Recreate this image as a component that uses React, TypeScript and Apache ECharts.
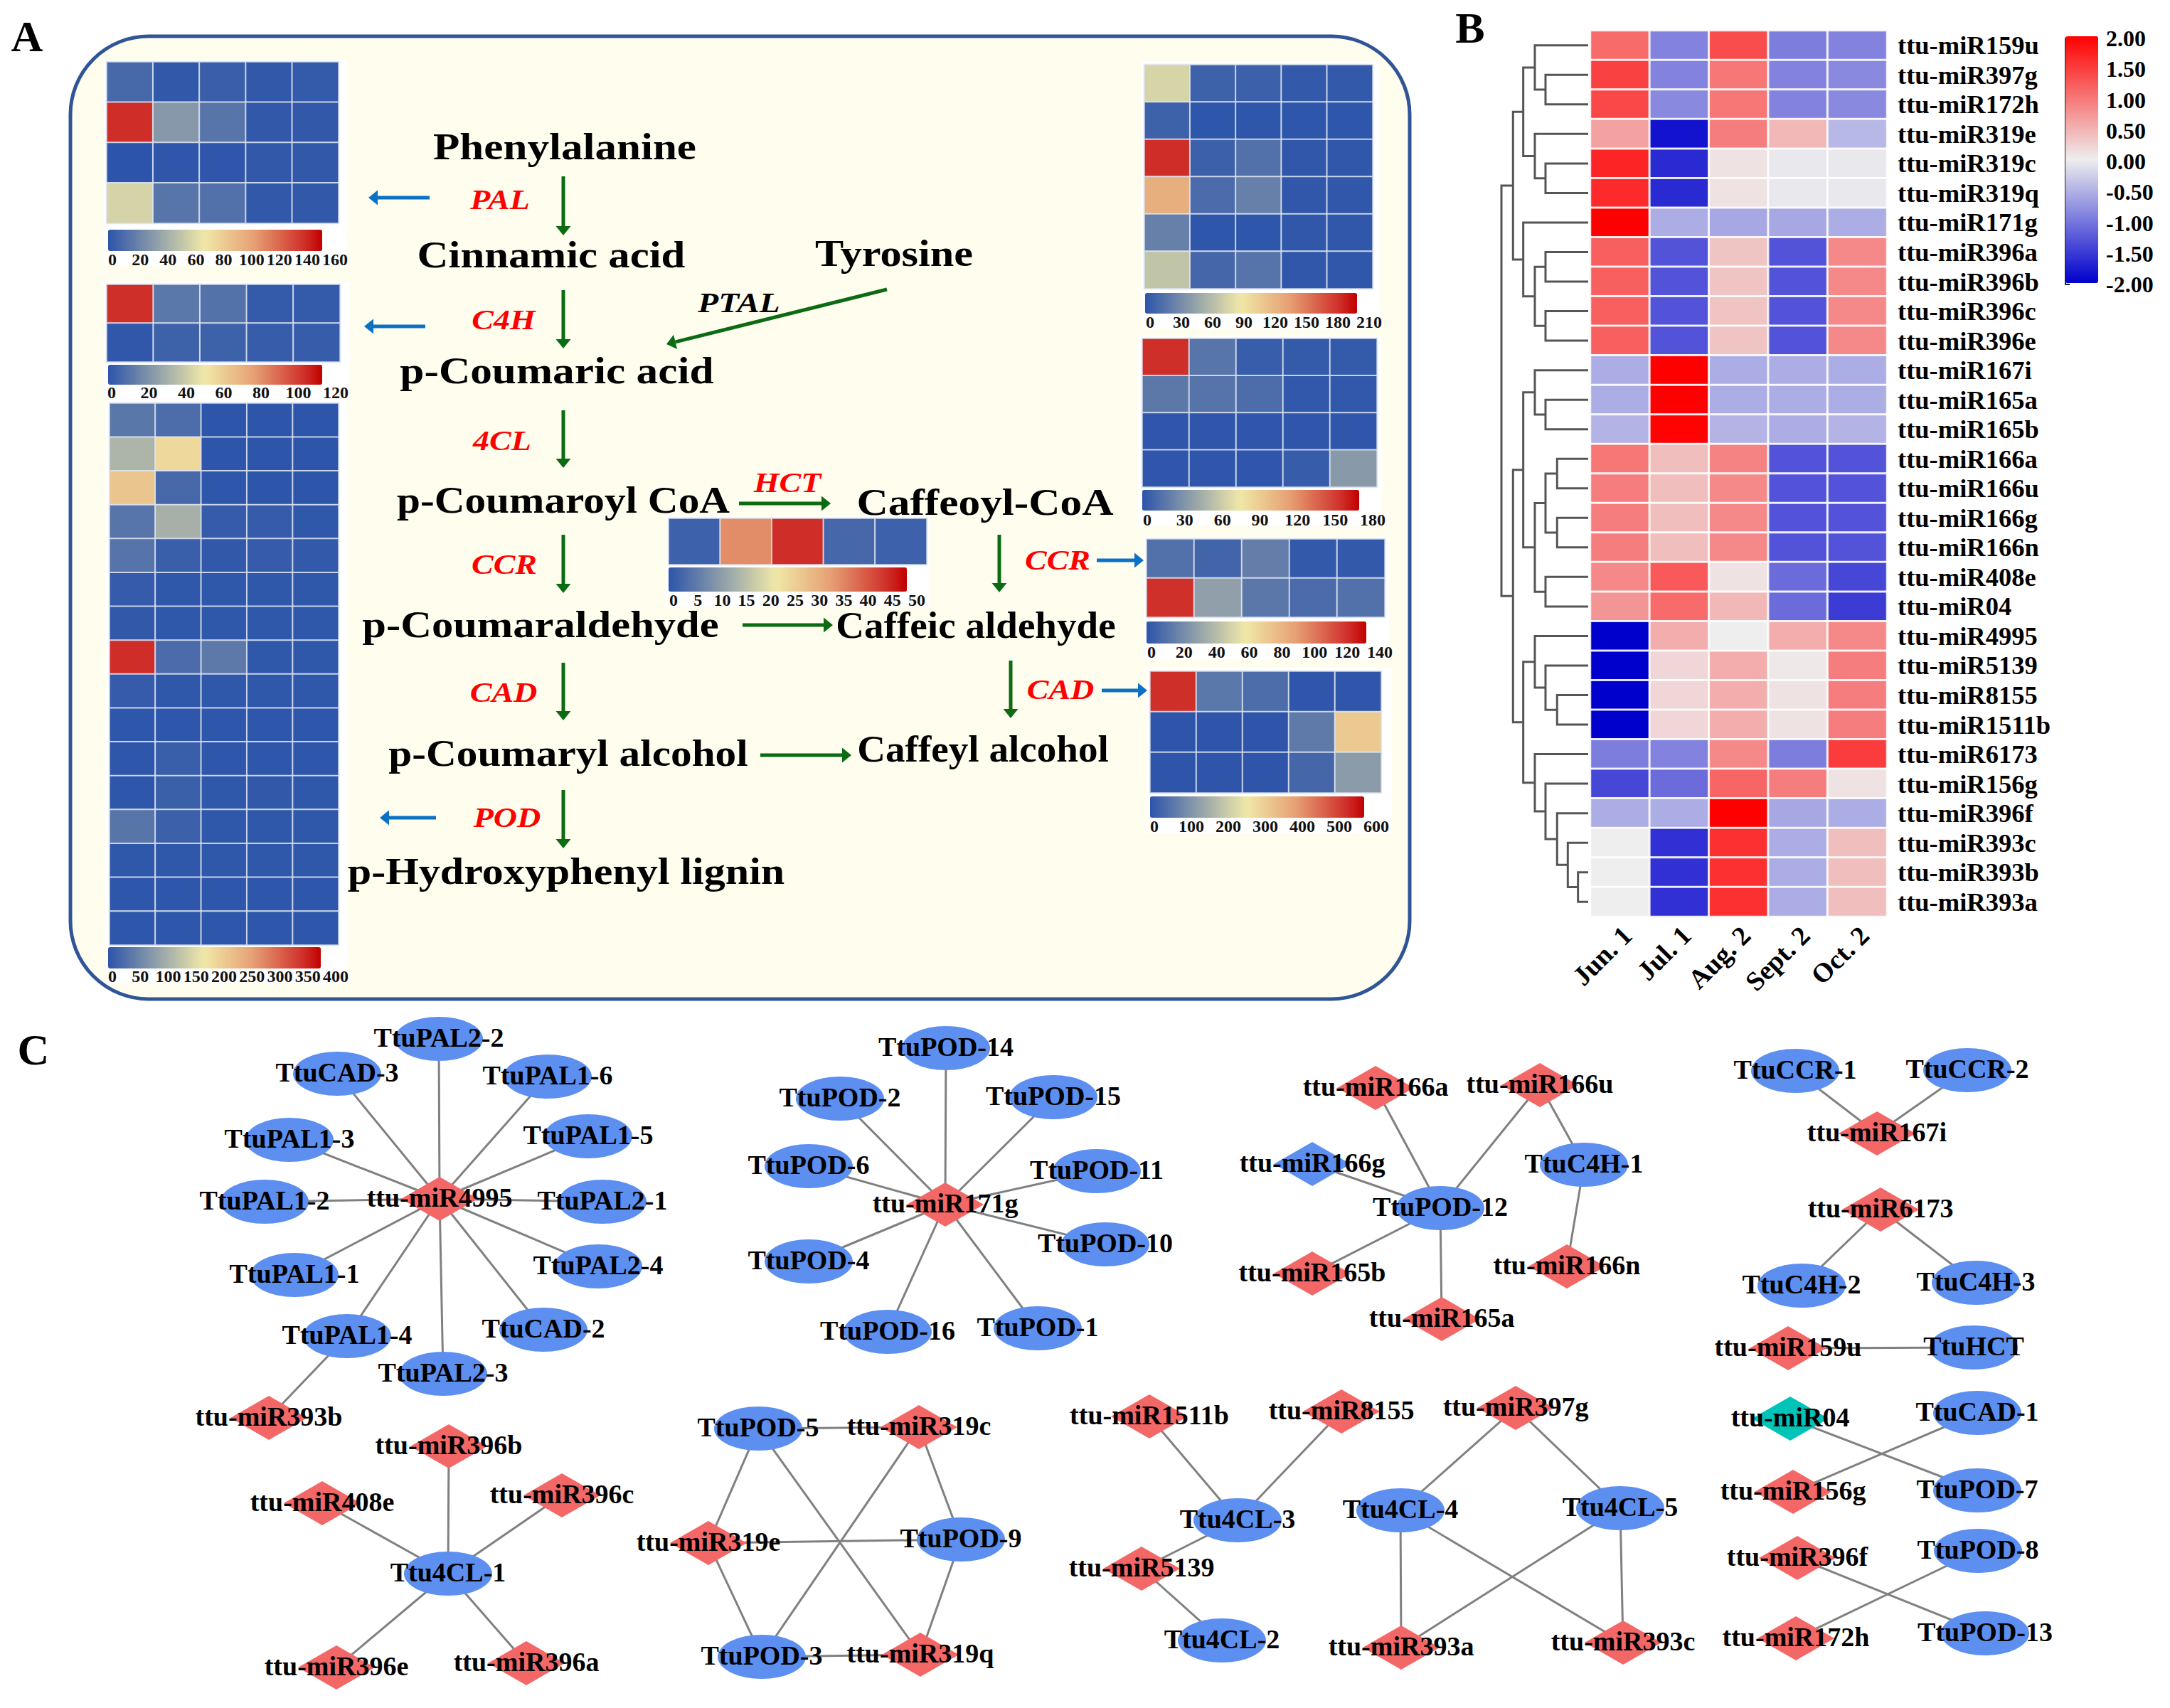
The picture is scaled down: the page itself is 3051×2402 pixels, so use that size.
import React, { useEffect, useRef } from "react";
import * as echarts from "echarts";

const FONT = "Liberation Serif";

const months = ["Jun. 1", "Jul. 1", "Aug. 2", "Sept. 2", "Oct. 2"];

// ---- Panel A: expression heat maps ----
const palValues = [
  [10, 2, 5, 2, 3],
  [147, 33, 16, 2, 2],
  [0, 1, 1, 2, 2],
  [62, 16, 14, 2, 2],
];
const c4hValues = [
  [110, 13, 11, 2, 2],
  [1, 5, 5, 3, 3],
];
const podValues = [
  [42, 30, 1, 1, 1],
  [118, 200, 1, 1, 1],
  [225, 25, 2, 1, 1],
  [40, 112, 8, 8, 3],
  [38, 12, 5, 8, 6],
  [8, 3, 3, 3, 3],
  [5, 3, 3, 3, 3],
  [368, 28, 45, 3, 3],
  [8, 3, 3, 3, 3],
  [2, 2, 2, 2, 2],
  [2, 12, 2, 2, 2],
  [2, 14, 3, 5, 3],
  [40, 15, 3, 3, 3],
  [3, 3, 3, 3, 3],
  [2, 2, 2, 2, 2],
  [2, 2, 2, 2, 2],
];
const rightTopValues = [
  [82, 9, 8, 3, 3],
  [9, 1, 1, 1, 1],
  [193, 8, 18, 2, 2],
  [133, 15, 28, 2, 2],
  [28, 1, 1, 2, 2],
  [72, 12, 20, 2, 2],
];
const rightSecondValues = [
  [165, 18, 5, 3, 3],
  [20, 17, 13, 2, 2],
  [1, 1, 1, 1, 1],
  [1, 1, 1, 4, 38],
];
const hctValues = [[2, 36, 46, 3, 2]];
const ccrValues = [
  [12, 7, 18, 2, 2],
  [128, 32, 15, 10, 12],
];
const cadValues = [
  [550, 65, 45, 4, 4],
  [2, 2, 2, 70, 330],
  [2, 2, 2, 35, 130],
];

// ---- Panel B ----
const mirNames = [
  "ttu-miR159u", "ttu-miR397g", "ttu-miR172h", "ttu-miR319e", "ttu-miR319c", "ttu-miR319q",
  "ttu-miR171g", "ttu-miR396a", "ttu-miR396b", "ttu-miR396c", "ttu-miR396e", "ttu-miR167i",
  "ttu-miR165a", "ttu-miR165b", "ttu-miR166a", "ttu-miR166u", "ttu-miR166g", "ttu-miR166n",
  "ttu-miR408e", "ttu-miR04", "ttu-miR4995", "ttu-miR5139", "ttu-miR8155", "ttu-miR1511b",
  "ttu-miR6173", "ttu-miR156g", "ttu-miR396f", "ttu-miR393c", "ttu-miR393b", "ttu-miR393a",
];
const mirValues = [
  [1.1, -0.9, 1.35, -0.95, -0.9],
  [1.45, -0.9, 1.0, -0.9, -0.85],
  [1.4, -0.85, 1.0, -0.9, -0.85],
  [0.65, -1.85, 0.95, 0.45, -0.45],
  [1.7, -1.65, 0.1, -0.05, -0.05],
  [1.65, -1.65, 0.1, -0.05, -0.05],
  [2, -0.55, -0.6, -0.6, -0.55],
  [1.2, -1.3, 0.35, -1.3, 0.85],
  [1.2, -1.3, 0.35, -1.3, 0.85],
  [1.2, -1.3, 0.35, -1.3, 0.85],
  [1.2, -1.3, 0.35, -1.3, 0.85],
  [-0.55, 2, -0.55, -0.55, -0.55],
  [-0.55, 2, -0.55, -0.55, -0.55],
  [-0.5, 1.98, -0.5, -0.55, -0.5],
  [1.0, 0.4, 0.9, -1.3, -1.3],
  [0.95, 0.4, 0.85, -1.3, -1.3],
  [0.95, 0.4, 0.85, -1.3, -1.3],
  [0.95, 0.4, 0.85, -1.3, -1.3],
  [0.85, 1.25, 0.1, -1.1, -1.4],
  [0.75, 1.1, 0.45, -1.1, -1.5],
  [-2, 0.55, 0, 0.55, 0.85],
  [-2, 0.2, 0.55, 0.05, 0.95],
  [-2, 0.2, 0.55, 0.1, 0.95],
  [-2, 0.2, 0.55, 0.1, 0.95],
  [-0.95, -0.9, 0.85, -0.95, 1.5],
  [-1.4, -1.1, 1.15, 0.95, 0.1],
  [-0.55, -0.55, 2, -0.6, -0.55],
  [0, -1.6, 1.6, -0.55, 0.4],
  [0, -1.6, 1.6, -0.55, 0.4],
  [0, -1.6, 1.6, -0.55, 0.4],
];
// Dendrogram: [height, childA, childB]; a plain number is a row of the heat map.
const dendrogram: any = [187,
  [162,
    [140,
      [115, 0, [92, 1, 2]],
      [115, 3, [92, 4, 5]],
    ],
    [140, 6, [115, [92, 7, 8], [92, 9, 10]]],
  ],
  [162,
    [140,
      [115, 11, [92, 12, 13]],
      [115, [92, [67, 14, 15], [67, 16, 17]], [92, 18, 19]],
    ],
    [140,
      [115, 20, [92, 21, [67, 22, 23]]],
      [115, 24, [92, 25, [67, 26, [44, 27, [22, 28, 29]]]]],
    ],
  ],
];

// ---- Panel C ----
const networkNodes: [string, number, number][] = [
  ["ttu-miR4995", 618, 1686], ["TtuPAL2-2", 617, 1461], ["TtuCAD-3", 474, 1510], ["TtuPAL1-6", 770, 1514],
  ["TtuPAL1-5", 827, 1598], ["TtuPAL1-3", 407, 1603], ["TtuPAL1-2", 372, 1690], ["TtuPAL2-1", 847, 1690],
  ["TtuPAL2-4", 841, 1781], ["TtuPAL1-1", 414, 1793], ["TtuCAD-2", 764, 1870], ["TtuPAL1-4", 488, 1879],
  ["TtuPAL2-3", 623, 1932], ["ttu-miR393b", 378, 1994], ["ttu-miR396b", 631, 2034], ["ttu-miR408e", 453, 2114],
  ["ttu-miR396c", 790, 2103], ["Ttu4CL-1", 630, 2213], ["ttu-miR396e", 473, 2345], ["ttu-miR396a", 740, 2339],
  ["ttu-miR171g", 1329, 1694], ["TtuPOD-14", 1330, 1474], ["TtuPOD-2", 1181, 1545], ["TtuPOD-15", 1481, 1543],
  ["TtuPOD-6", 1137, 1640], ["TtuPOD-11", 1542, 1647], ["TtuPOD-10", 1554, 1750], ["TtuPOD-4", 1137, 1774],
  ["TtuPOD-16", 1248, 1873], ["TtuPOD-1", 1459, 1868], ["ttu-miR166a", 1934, 1530], ["ttu-miR166g", 1845, 1637],
  ["TtuPOD-12", 2025, 1699], ["ttu-miR165b", 1845, 1791], ["ttu-miR165a", 2027, 1855], ["TtuPOD-5", 1066, 2009],
  ["ttu-miR319c", 1292, 2007], ["TtuPOD-9", 1351, 2165], ["ttu-miR319q", 1294, 2327], ["TtuPOD-3", 1071, 2330],
  ["ttu-miR319e", 996, 2170], ["ttu-miR1511b", 1616, 1992], ["ttu-miR8155", 1886, 1985], ["Ttu4CL-3", 1740, 2138],
  ["ttu-miR5139", 1605, 2206], ["Ttu4CL-2", 1718, 2307], ["Ttu4CL-4", 1969, 2124], ["ttu-miR393a", 1970, 2317],
  ["ttu-miR397g", 2131, 1980], ["Ttu4CL-5", 2278, 2121], ["ttu-miR393c", 2282, 2310], ["ttu-miR166u", 2165, 1526],
  ["TtuC4H-1", 2227, 1638], ["ttu-miR166n", 2203, 1781], ["TtuCCR-1", 2524, 1506], ["TtuCCR-2", 2766, 1505],
  ["ttu-miR167i", 2639, 1594], ["ttu-miR6173", 2644, 1701], ["TtuC4H-2", 2533, 1808], ["TtuC4H-3", 2778, 1804],
  ["ttu-miR159u", 2514, 1896], ["TtuHCT", 2775, 1895], ["ttu-miR04", 2517, 1995], ["TtuCAD-1", 2780, 1987],
  ["ttu-miR156g", 2521, 2098], ["TtuPOD-7", 2780, 2096], ["ttu-miR396f", 2527, 2191], ["TtuPOD-8", 2781, 2181],
  ["ttu-miR172h", 2525, 2304], ["TtuPOD-13", 2791, 2297],
];
const networkEdges: [string, string][] = [
  ["ttu-miR4995", "TtuPAL2-2"], ["ttu-miR4995", "TtuCAD-3"], ["ttu-miR4995", "TtuPAL1-6"], ["ttu-miR4995", "TtuPAL1-5"],
  ["ttu-miR4995", "TtuPAL1-3"], ["ttu-miR4995", "TtuPAL1-2"], ["ttu-miR4995", "TtuPAL2-1"], ["ttu-miR4995", "TtuPAL2-4"],
  ["ttu-miR4995", "TtuPAL1-1"], ["ttu-miR4995", "TtuCAD-2"], ["ttu-miR4995", "TtuPAL1-4"], ["ttu-miR4995", "TtuPAL2-3"],
  ["TtuPAL1-4", "ttu-miR393b"],
  ["Ttu4CL-1", "ttu-miR396b"], ["Ttu4CL-1", "ttu-miR408e"], ["Ttu4CL-1", "ttu-miR396c"], ["Ttu4CL-1", "ttu-miR396e"], ["Ttu4CL-1", "ttu-miR396a"],
  ["ttu-miR171g", "TtuPOD-14"], ["ttu-miR171g", "TtuPOD-2"], ["ttu-miR171g", "TtuPOD-15"], ["ttu-miR171g", "TtuPOD-6"],
  ["ttu-miR171g", "TtuPOD-11"], ["ttu-miR171g", "TtuPOD-10"], ["ttu-miR171g", "TtuPOD-4"], ["ttu-miR171g", "TtuPOD-16"], ["ttu-miR171g", "TtuPOD-1"],
  ["TtuPOD-12", "ttu-miR166a"], ["TtuPOD-12", "ttu-miR166u"], ["TtuPOD-12", "ttu-miR166g"], ["TtuPOD-12", "ttu-miR165b"], ["TtuPOD-12", "ttu-miR165a"],
  ["ttu-miR166u", "TtuC4H-1"], ["TtuC4H-1", "ttu-miR166n"],
  ["TtuPOD-5", "ttu-miR319c"], ["TtuPOD-5", "ttu-miR319e"], ["TtuPOD-5", "ttu-miR319q"],
  ["TtuPOD-3", "ttu-miR319q"], ["TtuPOD-3", "ttu-miR319e"], ["TtuPOD-3", "ttu-miR319c"],
  ["TtuPOD-9", "ttu-miR319c"], ["TtuPOD-9", "ttu-miR319q"], ["TtuPOD-9", "ttu-miR319e"],
  ["Ttu4CL-3", "ttu-miR1511b"], ["Ttu4CL-3", "ttu-miR8155"], ["Ttu4CL-3", "ttu-miR5139"], ["ttu-miR5139", "Ttu4CL-2"],
  ["Ttu4CL-4", "ttu-miR397g"], ["Ttu4CL-4", "ttu-miR393a"], ["Ttu4CL-4", "ttu-miR393c"],
  ["Ttu4CL-5", "ttu-miR397g"], ["Ttu4CL-5", "ttu-miR393a"], ["Ttu4CL-5", "ttu-miR393c"],
  ["ttu-miR167i", "TtuCCR-1"], ["ttu-miR167i", "TtuCCR-2"], ["ttu-miR6173", "TtuC4H-2"], ["ttu-miR6173", "TtuC4H-3"],
  ["ttu-miR159u", "TtuHCT"], ["ttu-miR04", "TtuPOD-7"], ["ttu-miR156g", "TtuCAD-1"], ["ttu-miR396f", "TtuPOD-13"], ["ttu-miR172h", "TtuPOD-8"],
];

// ---- Panel A: pathway labels ----
const compoundLabels: [string, number, number, number][] = [
  ["Phenylalanine", 794, 206, 1.175], ["Cinnamic acid", 775, 359, 1.17], ["Tyrosine", 1257, 356, 1.16],
  ["p-Coumaric acid", 783, 521, 1.18], ["p-Coumaroyl CoA", 792, 703, 1.14], ["p-Coumaraldehyde", 760, 878, 1.165],
  ["p-Coumaryl alcohol", 799, 1059, 1.14], ["p-Hydroxyphenyl lignin", 796, 1225, 1.155],
  ["Caffeoyl-CoA", 1385, 706, 1.18], ["Caffeic aldehyde", 1372, 880, 1.06], ["Caffeyl alcohol", 1382, 1054, 1.06],
];
const enzymeLabels: [string, number, number][] = [
  ["PAL", 703, 281], ["C4H", 708, 450], ["4CL", 706, 620], ["CCR", 709, 794], ["CAD", 708, 974],
  ["POD", 713, 1150], ["HCT", 1107, 679], ["CCR", 1487, 788], ["CAD", 1491, 970],
];
const greenArrows: number[][] = [
  [792, 248, 792, 331], [792, 408, 792, 490], [792, 577, 792, 658], [792, 752, 792, 834], [792, 932, 792, 1013],
  [792, 1111, 792, 1193], [1039, 708, 1168, 708], [1044, 879, 1171, 879], [1069, 1062, 1197, 1062],
  [1405, 752, 1405, 833], [1421, 929, 1421, 1010], [1247, 407, 937, 484],
];
const blueArrows: number[][] = [
  [604, 278, 518, 278], [598, 459, 512, 459], [613, 1150, 534, 1150], [1542, 788, 1608, 788], [1549, 971, 1613, 971],
];

// layout of the small heat maps: [left, top, width, height, barLeft, barTop, barWidth, barHeight, firstTickX, lastTickX, tickY, max, interval]
const panelLayouts: [number[][], number[]][] = [
  [palValues, [150, 87, 326, 227, 152, 323, 301, 30, 158, 471, 364, 160, 20]],
  [c4hValues, [150, 400, 328, 109, 152, 513, 301, 28, 157, 472, 551, 120, 20]],
  [podValues, [154, 567, 322, 762, 152, 1332, 299, 30, 158, 472, 1372, 400, 50]],
  [rightTopValues, [1609, 91, 321, 315, 1610, 412, 298, 29, 1617, 1925, 452, 210, 30]],
  [rightSecondValues, [1606, 476, 330, 209, 1606, 689, 305, 29, 1613, 1930, 730, 180, 30]],
  [hctValues, [940, 729, 363, 65, 940, 798, 335, 34, 947, 1289, 843, 50, 5]],
  [ccrValues, [1612, 758, 335, 110, 1612, 874, 309, 31, 1619, 1940, 916, 140, 20]],
  [cadValues, [1617, 944, 325, 171, 1617, 1120, 301, 30, 1623, 1935, 1161, 600, 100]],
];
const whitePanels: number[][] = [
  [146, 84, 342, 290], [146, 396, 345, 165], [148, 563, 340, 820], [1604, 87, 335, 375],
  [1600, 472, 343, 268], [935, 726, 372, 127], [1608, 755, 345, 172], [1612, 940, 345, 232],
];

function hexToRgb(h: string) {
  return [parseInt(h.slice(1, 3), 16), parseInt(h.slice(3, 5), 16), parseInt(h.slice(5, 7), 16)];
}
function buildRamp(anchors: [number, string][], n: number) {
  const out: string[] = [];
  for (let i = 0; i <= n; i++) {
    const t = i / n;
    let k = 0;
    while (k < anchors.length - 2 && t > anchors[k + 1][0]) k++;
    const [t0, c0] = anchors[k];
    const [t1, c1] = anchors[k + 1];
    const f = (t - t0) / (t1 - t0);
    const a = hexToRgb(c0);
    const b = hexToRgb(c1);
    out.push(`rgb(${a.map((v, j) => Math.round(v + (b[j] - v) * f)).join(",")})`);
  }
  return out;
}
const panelRamp = buildRamp(
  [[0, "#2c54aa"], [0.45, "#f0e8a8"], [0.68, "#e6a073"], [0.92, "#cf2d28"], [1, "#c00000"]],
  50
);

function arrow([x1, y1, x2, y2]: number[], color: string, lw: number, headL: number, headW: number) {
  const len = Math.hypot(x2 - x1, y2 - y1);
  const ux = (x2 - x1) / len;
  const uy = (y2 - y1) / len;
  const bx = x2 - ux * headL;
  const by = y2 - uy * headL;
  return [
    { type: "line", z: 1, shape: { x1, y1, x2: bx, y2: by }, style: { stroke: color, lineWidth: lw } },
    {
      type: "polygon", z: 1,
      shape: { points: [[x2, y2], [bx - uy * headW / 2, by + ux * headW / 2], [bx + uy * headW / 2, by - ux * headW / 2]] },
      style: { fill: color },
    },
  ];
}

function gText(text: string, x: number, y: number, fontSize: number, fill: string, scaleX = 1, italic = false) {
  return {
    type: "text", x, y, scaleX, z: 1,
    style: {
      text, fill, fontSize, fontFamily: FONT, fontWeight: "bold", fontStyle: italic ? "italic" : "normal",
      textAlign: "center", textVerticalAlign: "middle", align: "center", verticalAlign: "middle",
    },
  };
}

function dendroSegments(node: any, out: number[][]): [number, number] {
  if (typeof node === "number") return [0, node + 0.5];
  const [h, a, b] = node;
  const [ha, ya] = dendroSegments(a, out);
  const [hb, yb] = dendroSegments(b, out);
  out.push([ha, ya, h, yb, hb]);
  return [h, (ya + yb) / 2];
}

function buildOption() {
  const grid: any[] = [];
  const xAxis: any[] = [];
  const yAxis: any[] = [];
  const series: any[] = [];
  const visualMap: any[] = [];

  const addAxes = (g: any, x: any, y: any) => {
    grid.push({ outerBoundsMode: "none", containLabel: false, ...g });
    const i = grid.length - 1;
    xAxis.push({ gridIndex: i, ...x });
    yAxis.push({ gridIndex: i, ...y });
    return i;
  };

  // network overlay on the picture's own coordinates
  const net = addAxes(
    { left: 0, top: 0, width: 3051, height: 2402 },
    { type: "value", min: 0, max: 3051, show: false },
    { type: "value", min: 0, max: 2402, inverse: true, show: false }
  );
  const ellipsePath = "path://M0,50a50,50 0 1,0 100,0a50,50 0 1,0 -100,0Z";
  series.push({
    type: "graph", coordinateSystem: "cartesian2d", xAxisIndex: net, yAxisIndex: net, layout: "none", roam: false, silent: true,
    data: networkNodes.map(([name, x, y]) => {
      const isMir = name.startsWith("ttu-");
      const color = name === "ttu-miR04" ? "#00c4b8" : name === "ttu-miR166g" || !isMir ? "#5c8ff0" : "#f46767";
      return {
        name, value: [x, y],
        symbol: isMir ? "diamond" : ellipsePath,
        symbolSize: isMir ? [108, 62] : [124, 62],
        itemStyle: { color },
      };
    }),
    links: networkEdges.map(([source, target]) => ({ source, target })),
    lineStyle: { color: "#808080", width: 3, opacity: 1, curveness: 0 },
    label: { show: true, position: "inside", offset: [0, -2], fontFamily: FONT, fontWeight: "bold", fontSize: 38, color: "#000", formatter: "{b}" },
    z: 2,
  });

  // colour scales for panel A
  panelLayouts.forEach(([vals, l]) => {
    const [left, top, width, height, bl, bt, bw, bh, t0, t1, ty, max, interval] = l;
    const g = addAxes(
      { left, top, width, height },
      { type: "category", data: months, show: false },
      { type: "category", data: vals.map((_, i) => String(i + 1)), inverse: true, show: false }
    );
    const sIdx = series.length;
    const data: number[][] = [];
    vals.forEach((row, r) => row.forEach((v, c) => data.push([c, r, v])));
    series.push({
      type: "heatmap", xAxisIndex: g, yAxisIndex: g, data, silent: true,
      itemStyle: { borderColor: "rgba(222,228,240,0.85)", borderWidth: 2 },
    });
    visualMap.push({
      type: "continuous", show: true, min: 0, max, seriesIndex: sIdx, orient: "horizontal",
      left: bl, top: bt, itemHeight: bw, itemWidth: bh, padding: 0, calculable: false, hoverLink: false,
      inRange: { color: panelRamp },
    });
    addAxes(
      { left: t0, top: ty, width: t1 - t0, height: 1 },
      {
        type: "value", min: 0, max, interval, position: "bottom",
        axisLine: { show: false }, axisTick: { show: false }, splitLine: { show: false },
        axisLabel: { show: true, margin: 0, verticalAlign: "middle", fontFamily: FONT, fontWeight: "bold", fontSize: 24, color: "#111" },
      },
      { type: "value", show: false }
    );
  });

  // Panel B heat map
  const b = addAxes(
    { left: 2236, top: 43, width: 417, height: 1246 },
    { type: "category", data: months, show: false },
    {
      type: "category", data: mirNames, inverse: true, position: "right",
      axisLine: { show: false }, axisTick: { show: false }, splitLine: { show: false },
      axisLabel: { interval: 0, margin: 15, fontFamily: FONT, fontWeight: "bold", fontSize: 36.5, color: "#000" },
    }
  );
  const bIdx = series.length;
  const bData: number[][] = [];
  mirValues.forEach((row, r) => row.forEach((v, c) => bData.push([c, r, v])));
  series.push({
    type: "heatmap", xAxisIndex: b, yAxisIndex: b, data: bData, silent: true,
    itemStyle: { borderColor: "rgba(255,255,255,0.85)", borderWidth: 3 },
  });
  // month labels sit a little to the right of the column centres, on an axis of their own
  addAxes(
    { left: 2246, top: 43, width: 417, height: 1246 },
    {
      type: "category", data: months, position: "bottom",
      axisLine: { show: false }, axisTick: { show: false }, splitLine: { show: false },
      axisLabel: { interval: 0, rotate: 45, margin: 20, fontFamily: FONT, fontWeight: "bold", fontSize: 38, color: "#000" },
    },
    { type: "value", show: false }
  );
  visualMap.push({
    type: "continuous", show: true, min: -2, max: 2, seriesIndex: bIdx, orient: "vertical",
    left: 2904, top: 51, itemWidth: 46, itemHeight: 347, padding: 0, calculable: false, hoverLink: false,
    inRange: { color: ["#0000cd", "#eeeeee", "#ff0000"] },
  });
  addAxes(
    { left: 2904, top: 54, width: 46, height: 346 },
    { type: "value", show: false, min: 0, max: 1 },
    {
      type: "value", min: -2, max: 2, interval: 0.5, position: "right",
      axisLine: { show: true, lineStyle: { color: "#222", width: 2 } },
      axisTick: { show: true, length: 6, lineStyle: { color: "#222", width: 2 } },
      splitLine: { show: false },
      axisLabel: { margin: 11, fontFamily: FONT, fontWeight: "bold", fontSize: 32, color: "#000", formatter: (v: number) => v.toFixed(2) },
    }
  );

  // Dendrogram
  const segs: number[][] = [];
  dendroSegments(dendrogram, segs);
  const d = addAxes(
    { left: 2111, top: 43, width: 122, height: 1246 },
    { type: "value", min: 0, max: 187, inverse: true, show: false },
    { type: "value", min: 0, max: mirNames.length, inverse: true, show: false }
  );
  series.push({
    type: "custom", xAxisIndex: d, yAxisIndex: d, data: segs, silent: true, clip: false,
    encode: { x: [0, 2, 4], y: [1, 3] },
    renderItem: (_: any, api: any) => {
      const pts = [
        api.coord([api.value(0), api.value(1)]),
        api.coord([api.value(2), api.value(1)]),
        api.coord([api.value(2), api.value(3)]),
        api.coord([api.value(4), api.value(3)]),
      ];
      return { type: "polyline", shape: { points: pts }, style: { stroke: "#555", lineWidth: 3, fill: null } };
    },
  });

  const elements: any[] = [
    {
      type: "rect", z: -1,
      shape: { x: 99, y: 51, width: 1883, height: 1354, r: 110 },
      style: { fill: "#fffdee", stroke: "#2f5597", lineWidth: 5 },
    },
    ...whitePanels.map(([x, y, width, height]) => ({ type: "rect", z: -1, shape: { x, y, width, height }, style: { fill: "#fff" } })),
    gText("A", 38, 51, 62, "#000"),
    gText("B", 2067, 39, 62, "#000"),
    gText("C", 47, 1476, 62, "#000"),
    ...compoundLabels.map(([t, x, y, s]) => gText(t, x, y, 52, "#000", s)),
    ...enzymeLabels.map(([t, x, y]) => gText(t, x, y, 40, "#ff0000", 1.15, true)),
    gText("PTAL", 1039, 425, 40, "#000", 1.18, true),
    ...greenArrows.flatMap((a) => arrow(a, "#0b6b12", 5, 13, 21)),
    ...blueArrows.flatMap((a) => arrow(a, "#0b71c4", 5, 13, 21)),
  ];

  return { animation: false, backgroundColor: "#fff", grid, xAxis, yAxis, series, visualMap, graphic: { elements } };
}

export default function App() {
  const ref = useRef<HTMLDivElement>(null);
  useEffect(() => {
    const chart = echarts.init(ref.current!, null, { renderer: "svg" });
    chart.setOption(buildOption() as any);
    return () => chart.dispose();
  }, []);
  return <div ref={ref} style={{ position: "absolute", left: 0, top: 0, width: 3051, height: 2402 }} />;
}
